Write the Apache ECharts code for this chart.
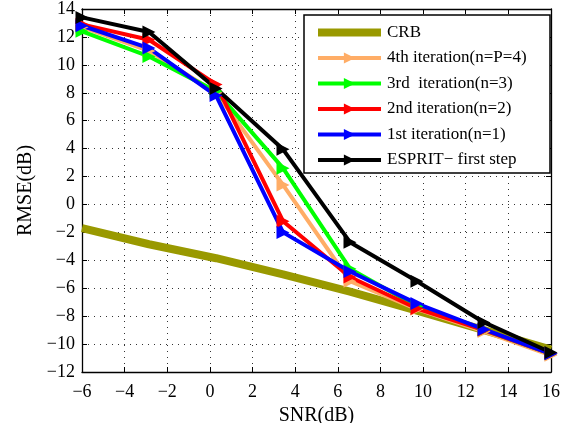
<!DOCTYPE html>
<html>
<head>
<meta charset="utf-8">
<script src="https://cdn.jsdelivr.net/npm/echarts@6/dist/echarts.min.js"></script>
<style>
html,body{margin:0;padding:0;background:#fff;}
#chart{width:570px;height:423px;}
</style>
</head>
<body>
<div id="chart"></div>
<script>
// ---- data ----
var snr = [-6, -2.86, 0.29, 3.43, 6.57, 9.71, 12.86, 16];
var crb = [-1.7, -2.85, -3.85, -5.0, -6.25, -7.6, -9.0, -10.4];
var iter4 = [12.7, 11.0, 8.0, 1.4, -5.5, -7.5, -9.1, -10.8];
var iter3 = [12.4, 10.6, 8.1, 2.6, -4.6, -7.3, -9.0, -10.7];
var iter2 = [12.9, 11.8, 8.6, -1.2, -5.2, -7.45, -9.0, -10.7];
var iter1 = [12.8, 11.2, 7.8, -2.0, -4.8, -7.1, -8.95, -10.7];
var esprit = [13.4, 12.35, 8.3, 3.95, -2.7, -5.5, -8.45, -10.6];
var seriesNames = ['CRB', '4th iteration(n=P=4)', '3rd  iteration(n=3)', '2nd iteration(n=2)', '1st iteration(n=1)', 'ESPRIT\u2212 first step'];
var xTitle = 'SNR(dB)';
var yTitle = 'RMSE(dB)';

var FONT = "'Liberation Serif', 'DejaVu Serif', serif";
function pairs(ys) { return snr.map(function (x, i) { return [x, ys[i]]; }); }
function fmt(v) { return String(v).replace('-', '\u2212'); }

var chart = echarts.init(document.getElementById('chart'), null, {renderer: 'canvas'});

var gridLine = {show: true, lineStyle: {color: '#333', type: [1, 5], width: 1}};
function mkSeries(name, ys, color, width, withSym) {
  return {
    name: name, type: 'line', data: pairs(ys),
    xAxisIndex: 0, yAxisIndex: 0,
    symbol: withSym ? 'triangle' : 'none',
    symbolSize: 13, symbolRotate: -90,
    showSymbol: withSym,
    lineStyle: {color: color, width: width},
    itemStyle: {color: color},
    emphasis: {disabled: true},
    animation: false
  };
}

var legendData = seriesNames.map(function (n, i) {
  if (i === 0) return {name: n, icon: 'path://M0,0h63v8h-63z'};
  return {name: n, lineStyle: {width: 4}};
});

var option = {
  backgroundColor: '#fff',
  animation: false,
  grid: {left: 82, right: 19, top: 9, bottom: 51, containLabel: false, outerBoundsMode: 'none'},
  graphic: [{
    type: 'rect', z: 50,
    shape: {x: 304, y: 15, width: 246, height: 158},
    style: {fill: '#fff', stroke: '#000', lineWidth: 1.5}
  }],
  legend: {
    orient: 'vertical', left: 311, top: 19, z: 60,
    itemWidth: 63, itemHeight: 14, itemGap: 8.5,
    symbolKeepAspect: true,
    textStyle: {fontFamily: FONT, fontSize: 17, color: '#000', padding: [0, 0, 0, 1]},
    data: legendData
  },
  xAxis: [{
    type: 'value', min: -6, max: 16, interval: 2, position: 'bottom',
    name: xTitle, nameLocation: 'middle', nameGap: 31,
    nameTextStyle: {fontFamily: FONT, fontSize: 20, color: '#000'},
    axisLine: {show: true, onZero: false, lineStyle: {color: '#000', width: 1.3}},
    axisTick: {show: true, inside: true, length: 5, lineStyle: {color: '#000'}},
    axisLabel: {fontFamily: FONT, fontSize: 18, color: '#000', margin: 11, formatter: fmt},
    splitLine: gridLine
  }, {
    type: 'value', min: -6, max: 16, interval: 2, position: 'top',
    axisLine: {show: true, onZero: false, lineStyle: {color: '#000', width: 1.3}},
    axisTick: {show: true, inside: true, length: 5, lineStyle: {color: '#000'}},
    axisLabel: {show: false}, splitLine: {show: false}
  }],
  yAxis: [{
    type: 'value', min: -12, max: 14, interval: 2, position: 'left',
    name: yTitle, nameLocation: 'middle', nameGap: 44,
    nameTextStyle: {fontFamily: FONT, fontSize: 20, color: '#000'},
    axisLine: {show: true, onZero: false, lineStyle: {color: '#000', width: 1.3}},
    axisTick: {show: true, inside: true, length: 5, lineStyle: {color: '#000'}},
    axisLabel: {fontFamily: FONT, fontSize: 18, color: '#000', margin: 7, formatter: fmt},
    splitLine: gridLine
  }, {
    type: 'value', min: -12, max: 14, interval: 2, position: 'right',
    axisLine: {show: true, onZero: false, lineStyle: {color: '#000', width: 1.3}},
    axisTick: {show: true, inside: true, length: 5, lineStyle: {color: '#000'}},
    axisLabel: {show: false}, splitLine: {show: false}
  }],
  series: [
    mkSeries(seriesNames[0], crb, '#999900', 8, false),
    mkSeries(seriesNames[1], iter4, '#ffad66', 4, true),
    mkSeries(seriesNames[2], iter3, '#00ff00', 4, true),
    mkSeries(seriesNames[3], iter2, '#ff0000', 4, true),
    mkSeries(seriesNames[4], iter1, '#0000ff', 4, true),
    mkSeries(seriesNames[5], esprit, '#000000', 4, true)
  ]
};
chart.setOption(option);
</script>
</body>
</html>
